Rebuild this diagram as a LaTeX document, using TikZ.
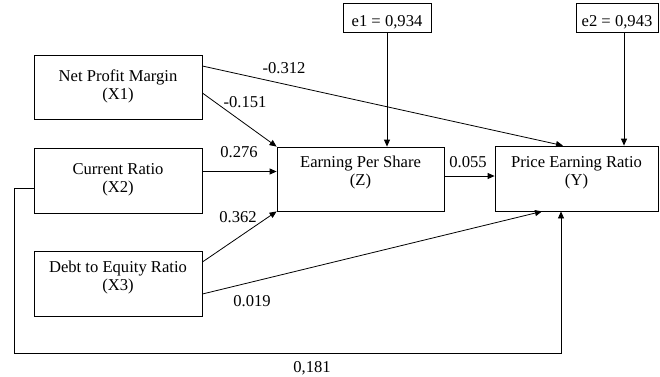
\documentclass[tikz,border=0pt]{standalone}
\usepackage{fontspec}
\setmainfont{Liberation Serif}
\newfontfamily\diagfont{Liberation Serif}
\usetikzlibrary{arrows.meta}
\begin{document}
\begin{tikzpicture}[x=1pt,y=-1pt,
  font=\diagfont\fontsize{16.6}{17.5}\selectfont,
  box/.style={draw, line width=0.8pt, inner sep=0pt},
  txt/.style={align=center, inner sep=0pt},
  lbl/.style={inner sep=0pt},
  arr/.style={line width=0.8pt, -{Triangle[length=7pt,width=6pt]}}]
\useasboundingbox (0,0) rectangle (660,376);
% boxes
\node[box, minimum width=168pt, minimum height=64pt] (X1) at (118,87) {};
\node[box, minimum width=168pt, minimum height=65pt] (X2) at (118,180.5) {};
\node[box, minimum width=168pt, minimum height=65pt] (X3) at (118,283.5) {};
\node[box, minimum width=167pt, minimum height=64pt] (Z) at (360.5,179) {};
\node[box, minimum width=163pt, minimum height=65pt] (Y) at (576.5,178.5) {};
\node[box, minimum width=88pt, minimum height=29pt] (e1) at (387,17.5) {};
\node[box, minimum width=82pt, minimum height=29pt] (e2) at (617,17.5) {};
% texts
\node[txt] (tX1) at (118,86.6) {Net Profit Margin\\(X1)};
\node[txt] (tX2) at (118,179.6) {Current Ratio\\(X2)};
\node[txt] (tX3) at (118,277.6) {Debt to Equity Ratio\\(X3)};
\node[txt] (tZ) at (360.5,172.6) {Earning Per Share\\(Z)};
\node[txt] (tY) at (576.5,172.6) {Price Earning Ratio\\(Y)};
\node[lbl, anchor=base] (te1) at (387,26) {e1 = 0,934};
\node[lbl, anchor=base] (te2) at (617,26) {e2 = 0,943};
% helper coordinates
\coordinate (x2e) at ([yshift=9pt]X2.east);
\coordinate (ze) at ([yshift=3pt]Z.east);
\coordinate (e2s) at ([xshift=7pt]e2.south);
\coordinate (fbl) at (14,353);
\coordinate (fbr) at (561,353);
% connectors
\draw[arr] (e1.south) -- (e1.south |- Z.north);
\draw[arr] (e2s) -- (e2s |- Y.north);
\draw[arr] ([yshift=21pt]X1.east) -- ([xshift=-13.5pt]Y.north);
\draw[arr] ([yshift=-6pt]X1.east) -- (Z.north west);
\draw[arr] (x2e) -- (Z.west |- x2e);
\draw[arr] ([yshift=21.5pt]X3.east) -- (Z.south west);
\draw[arr] ([yshift=-10.5pt]X3.east) -- ([xshift=-34.5pt]Y.south);
\draw[arr] (ze) -- (Y.west |- ze);
\draw[arr] ([yshift=-7.5pt]X2.west) -| (fbl) -- (fbr) -- (fbr |- Y.south);
% labels
\node[lbl] (l1) at (284,68) {-0.312};
\node[lbl] (l2) at (245,102) {-0.151};
\node[lbl] (l3) at (239,152) {0.276};
\node[lbl] (l4) at (238,217) {0.362};
\node[lbl] (l5) at (252,301) {0.019};
\node[lbl] (l6) at (468,162) {0.055};
\node[lbl] (l7) at (312,368) {0,181};
\end{tikzpicture}
\end{document}
